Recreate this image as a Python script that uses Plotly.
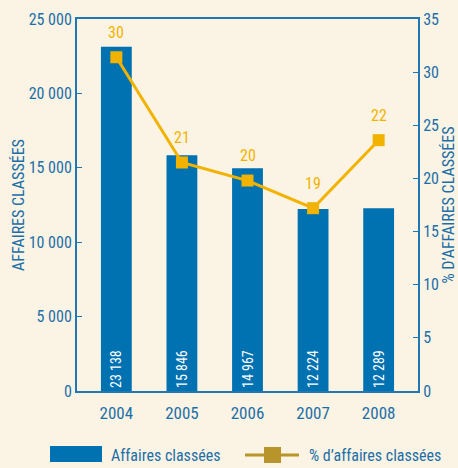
import plotly.graph_objects as go

years = ["2004", "2005", "2006", "2007", "2008"]
affaires = [23138, 15846, 14967, 12224, 12289]
affaires_labels = ["23 138", "15 846", "14 967", "12 224", "12 289"]
pct_plotted = [31.4, 21.5, 19.8, 17.2, 23.6]
pct_labels = ["30", "21", "20", "19", "22"]
left_ticks = [0, 5000, 10000, 15000, 20000, 25000]
left_ticktext = ["0", "5 000", "10 000", "15 000", "20 000", "25 000"]
right_ticks = [0, 5, 10, 15, 20, 25, 30, 35]

BG = "#FBF3E3"
BLUE = "#0071B1"
AXIS = "#1F77B4"
TXT = "#1B6FA8"
GOLD = "#F2B300"
OLIVE = "#B8952B"
FONT = "Roboto Condensed, DejaVu Sans Condensed, sans-serif"

L, R, T, B = 77, 40, 19, 77
PW, PH = 458 - L - R, 468 - T - B

def px(x):
    return (x - L) / PW

def py(y):
    return (468 - B - y) / PH

xs = list(range(len(years)))

fig = go.Figure()
fig.add_trace(go.Bar(
    x=xs, y=affaires, width=0.47, marker=dict(color=BLUE, line=dict(width=0)),
    text=affaires_labels, textposition="inside", insidetextanchor="start",
    textangle=-90, textfont=dict(color="white", size=14, family=FONT),
    showlegend=False, yaxis="y"))
fig.add_trace(go.Scatter(
    x=xs, y=pct_plotted, mode="lines+markers", yaxis="y2",
    line=dict(color=GOLD, width=3), marker=dict(symbol="square", size=12, color=GOLD),
    showlegend=False))
for xv, yv, lab in zip(xs, pct_plotted, pct_labels):
    fig.add_annotation(x=xv, y=yv, xref="x", yref="y2", text=lab, showarrow=False,
                       yshift=25, font=dict(color=GOLD, size=16, family=FONT))

fig.update_layout(
    width=458, height=468, paper_bgcolor=BG, plot_bgcolor=BG,
    margin=dict(l=L, r=R, t=T, b=B, autoexpand=False),
    font=dict(family=FONT, color=TXT, size=16),
    xaxis=dict(range=[-0.6, 4.6], tickvals=xs, ticktext=years, showline=True,
               linecolor=AXIS, linewidth=2, mirror=True, ticks="", showgrid=False,
               zeroline=False, automargin=False, ticklabelstandoff=6,
               tickfont=dict(size=17, color=TXT)),
    yaxis=dict(range=[0, 25000], tickvals=left_ticks, ticktext=left_ticktext,
               showline=True, linecolor=AXIS, linewidth=2, ticks="inside", ticklen=5,
               tickcolor=AXIS, showgrid=False, zeroline=False, automargin=False,
               tickfont=dict(size=16, color=TXT),
               title=dict(text="AFFAIRES CLASSÉES", font=dict(size=16, color=TXT), standoff=0)),
    yaxis2=dict(range=[0, 35], tickvals=right_ticks, overlaying="y", side="right",
                showline=True, linecolor=AXIS, linewidth=2, ticks="inside", ticklen=5,
                tickcolor=AXIS, showgrid=False, zeroline=False, automargin=False,
                tickfont=dict(size=16, color=TXT),
                title=dict(text="% D’AFFAIRES CLASSÉES", font=dict(size=16, color=TXT), standoff=8)),
)

# manual legend
fig.add_shape(type="rect", xref="paper", yref="paper", x0=px(50), x1=px(102),
              y0=py(462), y1=py(446), fillcolor=BLUE, line=dict(width=0))
fig.add_annotation(xref="paper", yref="paper", x=px(109), y=py(455),
                   text="Affaires classées", showarrow=False, xanchor="left", yanchor="middle",
                   font=dict(size=16, color=TXT))
fig.add_shape(type="line", xref="paper", yref="paper", x0=px(245), x1=px(299),
              y0=py(455), y1=py(455), line=dict(color=OLIVE, width=3))
fig.add_shape(type="rect", xref="paper", yref="paper", x0=px(264), x1=px(281),
              y0=py(463), y1=py(447), fillcolor=OLIVE, line=dict(width=0))
fig.add_annotation(xref="paper", yref="paper", x=px(307), y=py(455),
                   text="% d’affaires classées", showarrow=False, xanchor="left", yanchor="middle",
                   font=dict(size=16, color=TXT))

fig.write_html("out.html", config={"displayModeBar": False},
               post_script="document.body.style.margin='0';document.body.style.overflow='hidden';")
